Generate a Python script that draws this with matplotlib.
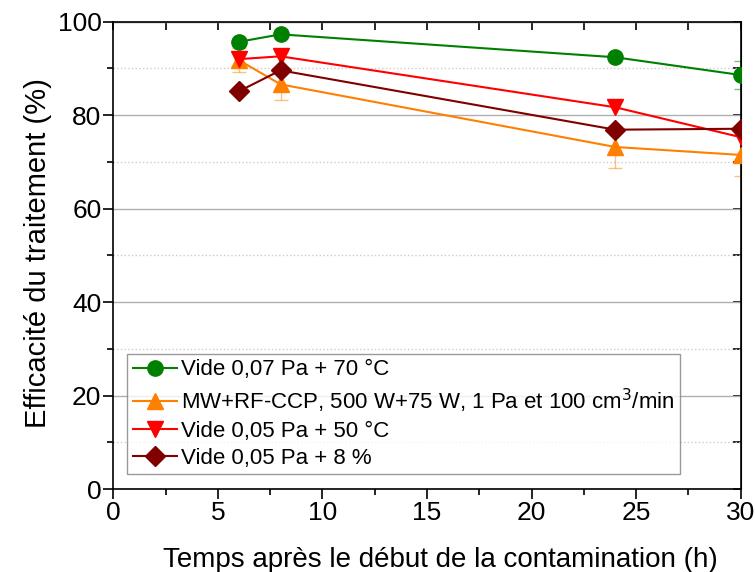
import matplotlib.pyplot as plt
import numpy as np

plt.rcParams['font.family'] = ['Liberation Sans', 'DejaVu Sans']

hours = [6, 8, 24, 30]

vide70 = [95.7, 97.3, 92.4, 88.6]
vide70_err = [0, 0, 0, 3.0]
mw_rf = [91.8, 86.6, 73.2, 71.5]
mw_rf_err = [2.5, 3.3, 4.5, 4.6]
vide50 = [92.0, 92.6, 81.7, 75.3]
vide50_err = [0, 0, 0, 0]
vide8 = [85.1, 89.6, 76.9, 77.1]
vide8_err = [0, 0, 0, 0]

labels = ['Vide 0,07 Pa + 70 °C',
          'MW+RF-CCP, 500 W+75 W, 1 Pa et 100 cm$^3$/min',
          'Vide 0,05 Pa + 50 °C',
          'Vide 0,05 Pa + 8 %']
series = [vide70, mw_rf, vide50, vide8]
errors = [vide70_err, mw_rf_err, vide50_err, vide8_err]
colors = ['#008000', '#ff8000', '#ff0000', '#800000']
markers = ['o', '^', 'v', 'D']
sizes = [11, 12, 12, 10]

fig = plt.figure(figsize=(7.55, 5.72), dpi=100)
ax = fig.add_axes([0.150, 0.145, 0.831, 0.817])

for y, e, c, m, s, lab in zip(series, errors, colors, markers, sizes, labels):
    if any(e):
        ax.errorbar(hours, y, yerr=e, fmt='none', ecolor=c, alpha=0.5,
                    capsize=5, elinewidth=1, capthick=1, zorder=2)
    ax.plot(hours, y, color=c, marker=m, markersize=s, linewidth=1.5,
            label=lab, zorder=3)

ax.set_xlim(0, 30)
ax.set_ylim(0, 100)
ax.set_xticks(np.arange(0, 31, 5))
ax.set_xticks(np.arange(0, 31, 2.5), minor=True)
ax.set_yticks(np.arange(0, 101, 20))
ax.set_yticks(np.arange(0, 101, 10), minor=True)
ax.tick_params(axis='both', which='major', labelsize=19, length=7, width=1.2, pad=1.5)
ax.tick_params(axis='both', which='minor', length=4, width=1.2)

ax.grid(axis='y', which='major', color='#b0b0b0', linewidth=1)
ax.grid(axis='y', which='minor', color='#cccccc', linewidth=1, linestyle=':')
ax.set_axisbelow(True)
for sp in ax.spines.values():
    sp.set_linewidth(1.2)

top = ax.secondary_xaxis('top')
top.set_xticks(np.arange(0, 31, 2.5))
top.tick_params(direction='in', length=6, width=1.2, labeltop=False)
right = ax.secondary_yaxis('right')
right.set_yticks(np.arange(0, 101, 10))
right.tick_params(direction='in', length=6, width=1.2, labelright=False)

ax.set_xlabel('Temps après le début de la contamination (h)', fontsize=20)
ax.xaxis.set_label_coords(0.522, -0.125)
ax.set_ylabel('Efficacité du traitement (%)', fontsize=21)
ax.yaxis.set_label_coords(-0.098, 0.505)

leg = ax.legend(loc='lower left', bbox_to_anchor=(0.022, 0.032), fontsize=16,
                frameon=True, fancybox=False, edgecolor='#808080',
                handlelength=2.0, handletextpad=0.2, labelspacing=0.27,
                borderpad=0.25, borderaxespad=0)
leg.get_frame().set_linewidth(1)

fig.savefig('out.png', dpi=100)
